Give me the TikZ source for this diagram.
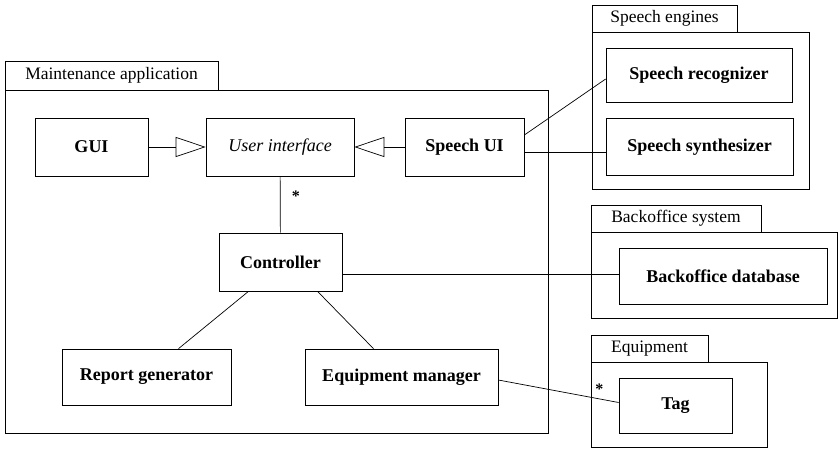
\documentclass[tikz,border=0pt]{standalone}
\usepackage{fontspec}
\setmainfont{Liberation Serif}
\usetikzlibrary{arrows.meta, positioning}

\begin{document}
\begin{tikzpicture}[
    x=1pt, y=-1pt,
    line width=0.7pt,
    box/.style={rectangle, draw, inner sep=0pt, font=\fontsize{18}{21}\selectfont\bfseries},
    pkgtab/.style={rectangle, draw, inner sep=0pt, font=\fontsize{17.5}{20}\selectfont},
    pkgbody/.style={rectangle, draw, inner sep=0pt},
    realize/.style={-{Triangle[open, length=30pt, width=20pt]}},
    assoc/.style={-}
]
    \useasboundingbox (0,0) rectangle (838,448);

    % Packages
    \node[pkgbody, minimum width=543, minimum height=343] (mainbody) at (276.5,261.5) {};
    \node[pkgtab, minimum width=213, minimum height=29] (maintab) at (111.5,75.5) {Maintenance application};
    \node[pkgbody, minimum width=217, minimum height=157] (engbody) at (700.5,110.5) {};
    \node[pkgtab, minimum width=145, minimum height=27] (engtab) at (664.5,18.5) {Speech engines};
    \node[pkgbody, minimum width=246, minimum height=86] (bkbody) at (714,275) {};
    \node[pkgtab, minimum width=170, minimum height=27] (bktab) at (676,218.5) {Backoffice system};
    \node[pkgbody, minimum width=176, minimum height=85] (eqbody) at (679,404.5) {};
    \node[pkgtab, minimum width=117, minimum height=27] (eqtab) at (649.5,348.5) {Equipment};

    % Row 1: Interfaces
    \node[box, minimum width=113, minimum height=58] (gui) at (91.5,147) {GUI};
    \node[box, minimum width=148, minimum height=58, font=\fontsize{18}{21}\selectfont\itshape] (ui) at (280,147) {User interface};
    \node[box, minimum width=119, minimum height=58] (speechui) at (464.5,147) {Speech UI};
    \node[box, minimum width=186, minimum height=54] (recog) at (699,75) {Speech recognizer};
    \node[box, minimum width=187, minimum height=57] (synth) at (699.5,147) {Speech synthesizer};

    % Row 2: Control
    \node[box, minimum width=123, minimum height=58] (controller) at (280.5,262) {Controller};
    \node[box, minimum width=208, minimum height=56] (bkdb) at (723,276) {Backoffice database};

    % Row 3: Managers
    \node[box, minimum width=169, minimum height=56] (report) at (146.5,377) {Report generator};
    \node[box, minimum width=193, minimum height=56] (equipmgr) at (401.5,377) {Equipment manager};
    \node[box, minimum width=113, minimum height=55] (tag) at (675.5,405.5) {Tag};

    % Connectors
    \draw[realize] (gui) -- (ui);
    \draw[realize] (speechui) -- (ui);
    \draw[assoc] (ui) -- node[pos=0.35, right=8pt, font=\fontsize{16}{18}\selectfont\bfseries] {*} (controller);
    \draw[assoc] ([yshift=12pt]speechui.east) -- ([yshift=-4pt]recog.west);
    \draw[assoc] ([yshift=-5pt]speechui.east) -- ([yshift=-5pt]synth.west);
    \draw[assoc] ([yshift=-12pt]controller.east) -- ([yshift=2pt]bkdb.west);
    \draw[assoc] ([xshift=-32pt]controller.south) -- ([xshift=32pt]report.north);
    \draw[assoc] ([xshift=37pt]controller.south) -- ([xshift=-28pt]equipmgr.north);
    \draw[assoc] ([yshift=-3pt]equipmgr.east) -- node[pos=0.84, above=1pt, font=\fontsize{16}{18}\selectfont\bfseries] {*} ([yshift=3pt]tag.west);
\end{tikzpicture}
\end{document}
